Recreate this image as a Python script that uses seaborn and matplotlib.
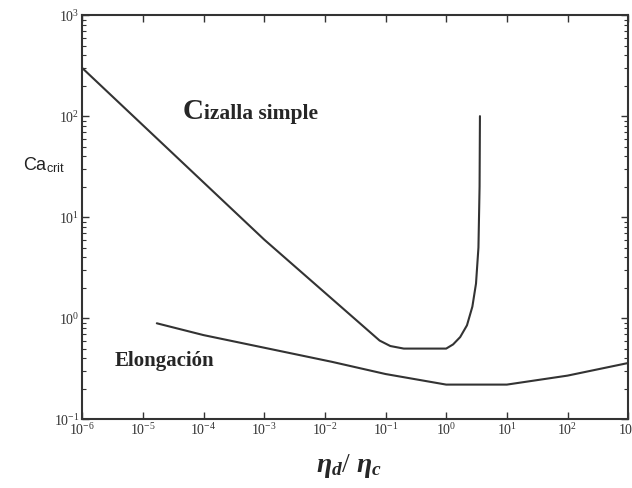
import numpy as np
import pandas as pd
import matplotlib
matplotlib.use("Agg")
import matplotlib.pyplot as plt
import seaborn as sns
from matplotlib.ticker import LogLocator, FixedLocator, NullFormatter

# Data
shear_x = [1e-6, 1e-3, 0.08, 0.12, 0.2, 0.5, 1.0, 1.3, 1.7, 2.2, 2.7, 3.1, 3.4, 3.55, 3.6]
shear_y = [300, 6.0, 0.6, 0.53, 0.5, 0.5, 0.5, 0.55, 0.65, 0.85, 1.3, 2.2, 5.0, 20, 100]
elong_x = [1.7e-5, 1e-4, 1e-3, 1.3e-2, 1e-1, 1.0, 10, 100, 1000]
elong_y = [0.89, 0.68, 0.51, 0.37, 0.28, 0.22, 0.22, 0.27, 0.36]
x_ticks = [1e-6, 1e-5, 1e-4, 1e-3, 1e-2, 1e-1, 1e0, 1e1, 1e2, 1e3]
x_ticklabels = ["10$^{-6}$", "10$^{-5}$", "10$^{-4}$", "10$^{-3}$", "10$^{-2}$",
                "10$^{-1}$", "10$^{0}$", "10$^{1}$", "10$^{2}$", "10$^{3}$"]
y_ticks = [1e-1, 1e0, 1e1, 1e2, 1e3]
y_ticklabels = ["10$^{-1}$", "10$^{0}$", "10$^{1}$", "10$^{2}$", "10$^{3}$"]

sns.set_style("ticks")
plt.rcParams["font.family"] = ["Liberation Serif", "DejaVu Serif"]
plt.rcParams["mathtext.fontset"] = "custom"
plt.rcParams["mathtext.rm"] = "Liberation Serif"
plt.rcParams["mathtext.it"] = "Liberation Serif:italic"
plt.rcParams["mathtext.bf"] = "Liberation Serif:bold"
plt.rcParams["mathtext.bfit"] = "Liberation Serif:italic:bold"

fig = plt.figure(figsize=(6.32, 4.88), dpi=100)
ax = fig.add_axes([0.130, 0.141, 0.864, 0.828])

df_s = pd.DataFrame({"x": shear_x, "y": shear_y})
df_e = pd.DataFrame({"x": elong_x, "y": elong_y})
sns.lineplot(data=df_s, x="x", y="y", ax=ax, color="#333333", lw=1.5, sort=False, estimator=None)
sns.lineplot(data=df_e, x="x", y="y", ax=ax, color="#333333", lw=1.5, sort=False, estimator=None)

ax.set_xscale("log")
ax.set_yscale("log")
ax.set_xlim(1e-6, 1e3)
ax.set_ylim(1e-1, 1e3)

ax.xaxis.set_major_locator(FixedLocator(x_ticks))
ax.set_xticklabels(x_ticklabels)
ax.xaxis.set_minor_locator(FixedLocator([]))
ax.yaxis.set_major_locator(FixedLocator(y_ticks))
ax.set_yticklabels(y_ticklabels)
ax.yaxis.set_minor_locator(LogLocator(base=10, subs=np.arange(2, 10)))
ax.yaxis.set_minor_formatter(NullFormatter())

ax.tick_params(which="both", direction="in", top=True, right=True, color="#333333")
ax.tick_params(which="major", length=5, width=1, labelsize=10, pad=2, labelcolor="#333333")
ax.tick_params(which="minor", length=3, width=0.8)
for s in ax.spines.values():
    s.set_color("#333333")
    s.set_linewidth(1.5)

ax.set_xlabel("")
ax.set_ylabel("")

fig.text(0.070, 0.662, "Ca$_{\\mathregular{crit}}$", fontsize=13, family="Liberation Sans",
         ha="center", va="center", color="#222222")
fig.text(0.553, 0.045, "$\\mathbfit{\\eta_d}$/ $\\mathbfit{\\eta_c}$", fontsize=20,
         ha="center", va="center")

c_txt = ax.text(4.6e-5, 110, "C", fontsize=21, fontweight="bold", ha="left", va="center")
ax.annotate("izalla simple", xy=(1.0, 0.42), xycoords=c_txt, fontsize=15.5,
            fontweight="bold", ha="left", va="center")
ax.text(3.4e-6, 0.38, "Elongación", fontsize=15, fontweight="bold", ha="left", va="center")

fig.savefig("out.png", dpi=100)
